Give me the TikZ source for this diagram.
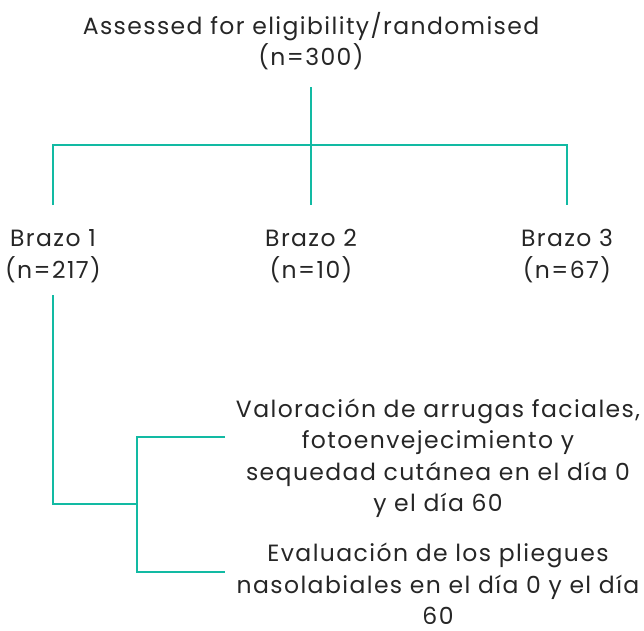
\documentclass[tikz,border=0pt]{standalone}
\usepackage{fontspec}
\setmainfont{Poppins}[LetterSpace=6]
\definecolor{teal1}{RGB}{18,186,163}
\begin{document}
\begin{tikzpicture}[x=1pt,y=-1pt,
  lbl/.style={font=\fontsize{23.5}{31.5}\selectfont, align=center, inner sep=0pt, text=black!85},
  conn/.style={draw=teal1, line width=2.6pt}]
\useasboundingbox (0,0) rectangle (644,630);
\node[lbl] (top) at (311,41) {Assessed for eligibility/randomised\\(n=300)};
\node[lbl] (b1) at (53,256) {Brazo 1\\(n=217)};
\node[lbl] (b2) at (311,256) {Brazo 2\\(n=10)};
\node[lbl] (b3) at (567,256) {Brazo 3\\(n=67)};
\node[lbl] (v1) at (438,458) {Valoración de arrugas faciales,\\fotoenvejecimiento y\\sequedad cutánea en el día 0\\y el día 60};
\node[lbl] (v2) at (438,584) {Evaluación de los pliegues\\nasolabiales en el día 0 y el día\\60};
\coordinate (t0) at (311,87);
\coordinate (hl) at (53,145);
\coordinate (hr) at (567,145);
\coordinate (d1) at (53,205);
\coordinate (d2) at (311,205);
\coordinate (d3) at (567,205);
\coordinate (s1) at (53,295);
\coordinate (s2) at (53,504);
\coordinate (s3) at (137,504);
\coordinate (u1) at (137,437);
\coordinate (u2) at (137,572);
\coordinate (e1) at (225,437);
\coordinate (e2) at (225,572);
\draw[conn] (t0) -- (d2);
\draw[conn] (d1) -- (hl) -- (hr) -- (d3);
\draw[conn] (s1) -- (s2) -- (s3);
\draw[conn] (e1) -- (u1) -- (u2) -- (e2);
\end{tikzpicture}
\end{document}
